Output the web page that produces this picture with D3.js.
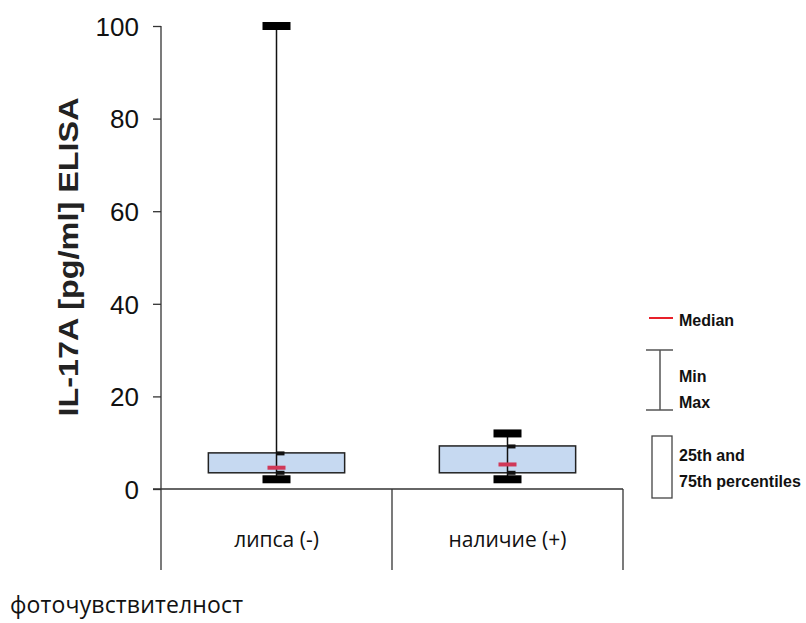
<!DOCTYPE html>
<html>
<head>
<meta charset="utf-8">
<script src="https://cdn.jsdelivr.net/npm/d3@7"></script>
<style>
  html, body { margin: 0; padding: 0; background: #fff; }
  svg { display: block; }
  .narrow { font-family: "Liberation Sans Narrow", "Arial Narrow", "Liberation Sans", Arial, sans-serif; font-stretch: condensed; }
</style>
</head>
<body>
<svg id="chart" width="806" height="623"></svg>
<script>
// IL-17A by photosensitivity group: min / quartiles / median / max
const categories = ["липса (-)", "наличие (+)"];
const minValues = [2.1, 2.1];
const q1Values = [3.5, 3.5];
const medianValues = [4.6, 5.3];
const q3Values = [7.8, 9.3];
const maxValues = [100, 12.0];
const yTicks = [0, 20, 40, 60, 80, 100];

const rows = categories.map((c, i) => ({
  cat: c, min: minValues[i], q1: q1Values[i], med: medianValues[i], q3: q3Values[i], max: maxValues[i]
}));

const svg = d3.select("#chart");
const axisX = 161, baseY = 489, topY = 26, bottomY = 570, rightX = 623;

const y = d3.scaleLinear().domain([0, 100]).range([baseY, topY]);
const x = d3.scaleBand().domain(categories).range([axisX, rightX]).padding(0);

// Y axis
const yAxis = svg.append("g").attr("transform", `translate(${axisX},0)`)
  .call(d3.axisLeft(y).tickValues(yTicks).tickSize(8).tickPadding(14).tickFormat(d3.format("d")));
yAxis.select(".domain").remove();
yAxis.selectAll(".tick line").attr("stroke", "#333").attr("stroke-width", 1.3);
yAxis.selectAll(".tick text").attr("class", "narrow").attr("font-size", 26).attr("fill", "#111").attr("dy", "0.36em");
svg.append("line").attr("x1", axisX).attr("x2", axisX).attr("y1", topY).attr("y2", bottomY)
  .attr("stroke", "#333").attr("stroke-width", 1.3);

// X axis baseline and category separators
svg.append("line").attr("x1", axisX - 8).attr("x2", rightX).attr("y1", baseY).attr("y2", baseY)
  .attr("stroke", "#333").attr("stroke-width", 1.3);
categories.forEach(c => {
  const xr = x(c) + x.bandwidth();
  svg.append("line").attr("x1", xr).attr("x2", xr).attr("y1", baseY).attr("y2", bottomY)
    .attr("stroke", "#333").attr("stroke-width", 1.3);
});

// Category labels
svg.append("g").selectAll("text").data(categories).join("text")
  .attr("x", d => x(d) + x.bandwidth() / 2)
  .attr("y", 540)
  .attr("dy", "0.35em")
  .attr("text-anchor", "middle")
  .attr("font-family", "'Open Sans', 'Noto Sans', sans-serif")
  .attr("font-size", 21)
  .attr("fill", "#111")
  .text(d => d);

// Boxes
const boxW = x.bandwidth() * 0.59;
const g = svg.append("g").selectAll("g").data(rows).join("g")
  .attr("transform", d => `translate(${x(d.cat) + x.bandwidth() / 2},0)`);

g.append("rect")
  .attr("x", -boxW / 2).attr("width", boxW)
  .attr("y", d => y(d.q3)).attr("height", d => y(d.q1) - y(d.q3))
  .attr("fill", "#c6d9f1").attr("stroke", "#222").attr("stroke-width", 1.5);

// Whisker
g.append("line").attr("x1", 0).attr("x2", 0)
  .attr("y1", d => y(d.max)).attr("y2", d => y(d.min))
  .attr("stroke", "#111").attr("stroke-width", 1.5);

// Short marks at box edges
g.append("rect").attr("x", 0).attr("width", 8).attr("y", d => y(d.q3) - 1.5).attr("height", 4).attr("fill", "#111");
g.append("rect").attr("x", 0).attr("width", 8).attr("y", d => y(d.q1) - 2).attr("height", 4).attr("fill", "#111");

// Min / max caps
g.append("rect").attr("x", -14).attr("width", 28).attr("y", d => y(d.max) - 4).attr("height", 8).attr("fill", "#000");
g.append("rect").attr("x", -14).attr("width", 28).attr("y", d => y(d.min) - 4).attr("height", 8).attr("fill", "#000");

// Median
g.append("rect").attr("x", -9).attr("width", 18).attr("y", d => y(d.med) - 2).attr("height", 4).attr("fill", "#d03858");

// Y title (stretched along its length)
svg.append("text")
  .attr("transform", "translate(78,257) rotate(-90) scale(1.2,1)")
  .attr("text-anchor", "middle")
  .attr("font-family", "'Liberation Sans', Arial, sans-serif")
  .attr("font-weight", "bold")
  .attr("font-size", 27)
  .attr("fill", "#222")
  .text("IL-17A  [pg/ml] ELISA");

// X title
svg.append("text")
  .attr("x", 10).attr("y", 605).attr("dy", "0.35em")
  .attr("font-family", "'Open Sans', 'Noto Sans', sans-serif")
  .attr("font-size", 23)
  .attr("textLength", 233)
  .attr("fill", "#111")
  .text("фоточувствителност");

// Legend
const lg = svg.append("g");
const legendFont = sel => sel.attr("class", "narrow").attr("font-weight", "bold").attr("font-size", 16).attr("fill", "#111").attr("dy", "0.35em");
lg.append("line").attr("x1", 649).attr("x2", 673).attr("y1", 318).attr("y2", 318).attr("stroke", "#e8202a").attr("stroke-width", 2);
lg.append("text").attr("x", 679).attr("y", 320).text("Median").call(legendFont);

lg.append("line").attr("x1", 660).attr("x2", 660).attr("y1", 350).attr("y2", 410).attr("stroke", "#555").attr("stroke-width", 1.5);
lg.append("line").attr("x1", 646).attr("x2", 673).attr("y1", 350).attr("y2", 350).attr("stroke", "#555").attr("stroke-width", 1.5);
lg.append("line").attr("x1", 646).attr("x2", 673).attr("y1", 410).attr("y2", 410).attr("stroke", "#555").attr("stroke-width", 1.5);
lg.append("text").attr("x", 679).attr("y", 376).text("Min").call(legendFont);
lg.append("text").attr("x", 679).attr("y", 402).text("Max").call(legendFont);

lg.append("rect").attr("x", 652).attr("y", 436).attr("width", 20).attr("height", 62)
  .attr("fill", "#fff").attr("stroke", "#444").attr("stroke-width", 1.3);
lg.append("text").attr("x", 679).attr("y", 455).text("25th and").call(legendFont);
lg.append("text").attr("x", 679).attr("y", 481).text("75th percentiles").call(legendFont);
</script>
</body>
</html>
